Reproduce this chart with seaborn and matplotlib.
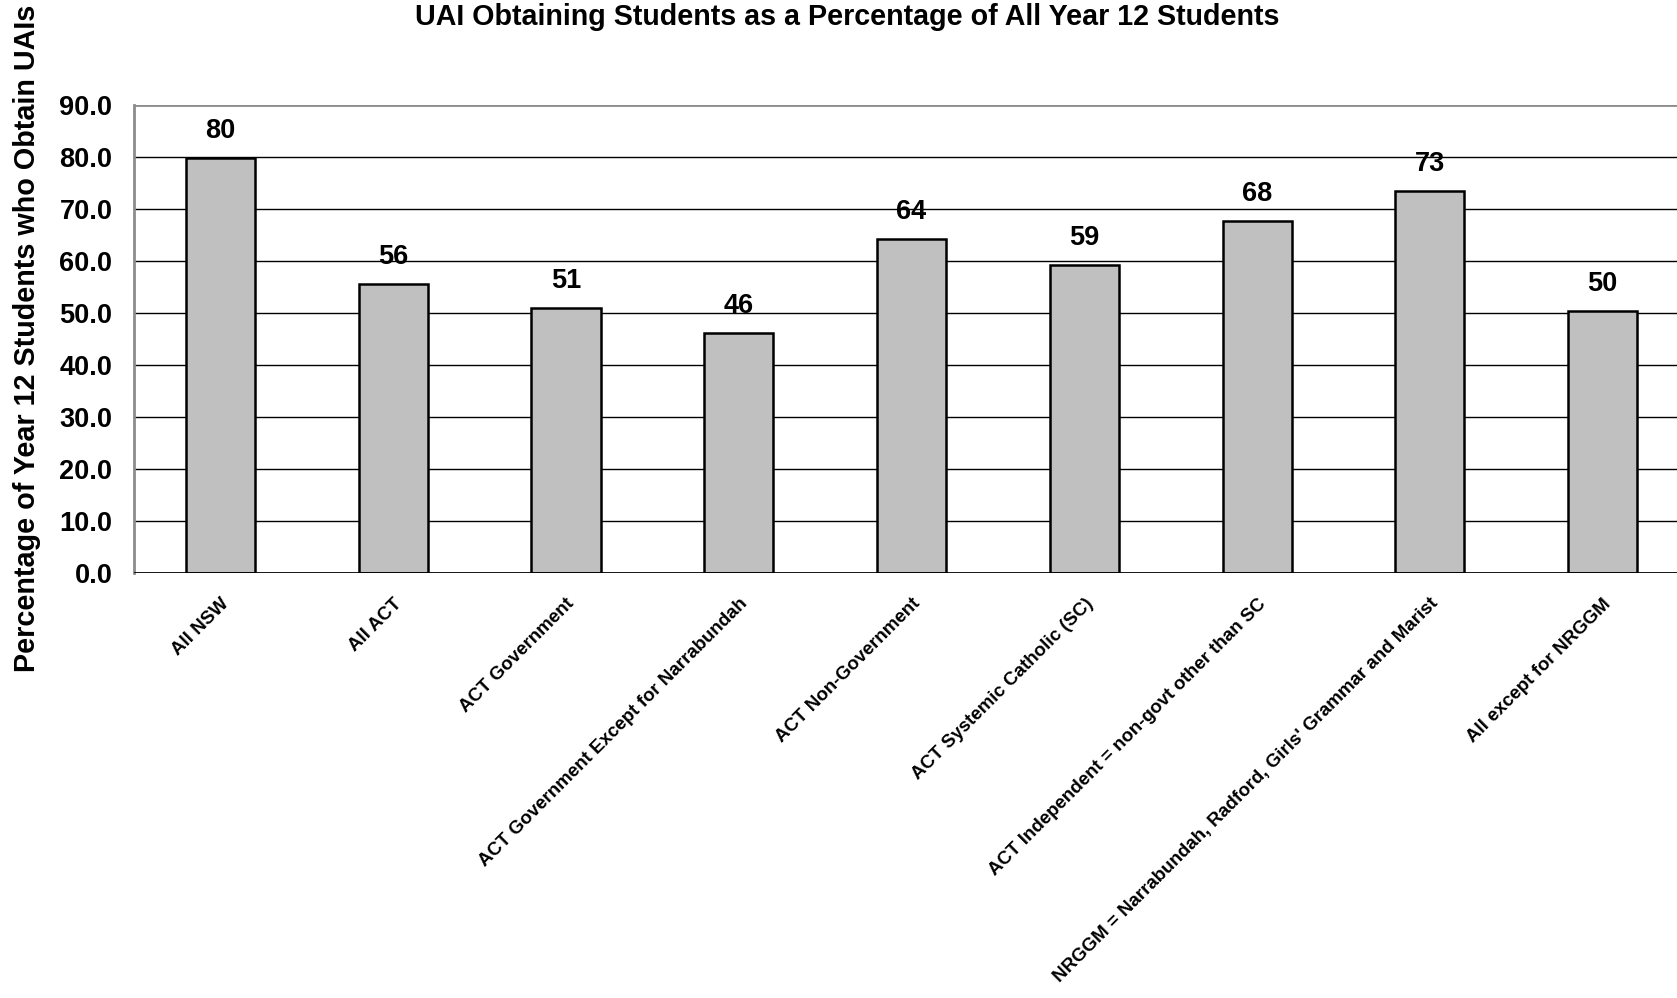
import matplotlib
matplotlib.use("Agg")
import matplotlib.pyplot as plt
import matplotlib.transforms as mtransforms
import seaborn as sns
import pandas as pd

categories = [
    "All NSW",
    "All ACT",
    "ACT Government",
    "ACT Government Except for Narrabundah",
    "ACT Non-Government",
    "ACT Systemic Catholic (SC)",
    "ACT Independent = non-govt other than SC",
    "NRGGM = Narrabundah, Radford, Girls' Grammar and Marist",
    "All except for NRGGM",
]
percentages = [79.9, 55.6, 51.0, 46.2, 64.3, 59.2, 67.6, 73.4, 50.4]

title = "UAI Obtaining Students as a Percentage of All Year 12 Students"
y_label = "Percentage of Year 12 Students who Obtain UAIs"
y_ticks = [0, 10, 20, 30, 40, 50, 60, 70, 80, 90]

df = pd.DataFrame({"category": categories, "pct": percentages})

sns.set_style("white")
plt.rcParams["font.family"] = ["Liberation Sans", "DejaVu Sans"]
plt.rcParams["font.weight"] = "bold"
plt.rcParams["text.color"] = "black"
plt.rcParams["xtick.color"] = "black"
plt.rcParams["ytick.color"] = "black"
plt.rcParams["xtick.labelcolor"] = "black"
plt.rcParams["ytick.labelcolor"] = "black"

W, H = 1677, 998
fig = plt.figure(figsize=(W / 100, H / 100), dpi=100)
left, right, top, bottom = 134, 1689, 105, 573
ax = fig.add_axes([left / W, 1 - bottom / H, (right - left) / W, (bottom - top) / H])

sns.barplot(data=df, x="category", y="pct", ax=ax, color="#C0C0C0",
            edgecolor="black", linewidth=1.8, width=0.40, saturation=1, zorder=3)

ax.set_ylim(0, 90)
ax.set_xlim(-0.5, len(categories) - 0.5)
ax.set_yticks(y_ticks)
ax.set_yticklabels([f"{v:.1f}" for v in y_ticks], fontsize=19.5, fontweight="bold")
for v in y_ticks[1:-1]:
    ax.axhline(v, color="black", linewidth=1.0, zorder=1)
ax.axhline(90, color="#8c8c8c", linewidth=2.0, zorder=1)
ax.axhline(0, color="black", linewidth=2.0, zorder=4)

# category boundary ticks on the x axis, names centred under each bar
ax.set_xticks([i - 0.5 for i in range(len(categories) + 1)], minor=False)
ax.set_xticklabels([])
ax.set_xticks(range(len(categories)), minor=True)
ax.set_xticklabels(categories, minor=True, rotation=45, ha="right",
                   rotation_mode="anchor", fontsize=13.5, fontweight="bold")
shift = mtransforms.ScaledTranslation(-10 / 100, 0, fig.dpi_scale_trans)
for lab in ax.get_xticklabels(minor=True):
    lab.set_transform(lab.get_transform() + shift)
ax.tick_params(axis="x", which="minor", length=0, pad=16)
ax.tick_params(axis="x", which="major", length=5, width=1.2, color="#555555", direction="out")
ax.tick_params(axis="y", length=6.5, width=1.2, color="#333333", direction="out", pad=9)

for s in ["top", "right", "bottom"]:
    ax.spines[s].set_visible(False)
ax.spines["left"].set_color("#8c8c8c")
ax.spines["left"].set_linewidth(2.0)

for i, v in enumerate(percentages):
    ax.annotate(f"{v:.0f}", xy=(i, v), xytext=(0, 27), textcoords="offset pixels",
                ha="center", va="center", fontsize=19.5, fontweight="bold", zorder=5)

ax.set_xlabel("")
ax.set_ylabel("")
fig.text(27 / W, 1 - 338 / H, y_label, rotation=90, ha="center", va="center",
         fontsize=20.7, fontweight="bold")
fig.text(847 / W, 1 - 17 / H, title, ha="center", va="center",
         fontsize=20.6, fontweight="bold")

fig.savefig("out.png", dpi=100)
